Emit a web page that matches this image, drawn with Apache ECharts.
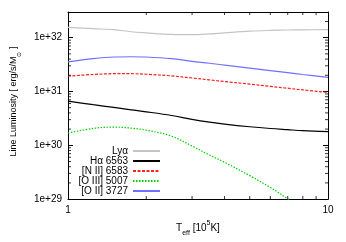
<!DOCTYPE html>
<html>
<head>
<meta charset="utf-8">
<script src="https://cdn.jsdelivr.net/npm/echarts@6/dist/echarts.min.js"></script>
<style>
html,body{margin:0;padding:0;background:#fff;}
#c{width:346px;height:242px;}
</style>
</head>
<body>
<div id="c"></div>
<script>
// Effective temperature grid [10^5 K]
const teff = [1, 1.25, 1.5, 1.75, 2, 2.5, 3, 3.5, 4, 5, 6, 7, 8, 10];
// Line luminosities [erg/s/Msun]
const lyAlpha = [1.56e32, 1.47e32, 1.41e32, 1.29e32, 1.23e32, 1.15e32, 1.135e32, 1.175e32, 1.23e32, 1.32e32, 1.365e32, 1.39e32, 1.40e32, 1.41e32];
const hAlpha = [6.64e30, 5.68e30, 5.05e30, 4.56e30, 4.19e30, 3.58e30, 3.04e30, 2.70e30, 2.48e30, 2.21e30, 2.05e30, 1.95e30, 1.87e30, 1.79e30];
const nII6583 = [1.93e31, 2.07e31, 2.14e31, 2.14e31, 2.09e31, 1.95e31, 1.78e31, 1.64e31, 1.53e31, 1.37e31, 1.245e31, 1.15e31, 1.07e31, 9.6e30];
const oIII5007 = [1.69e30, 2.06e30, 2.18e30, 2.08e30, 1.91e30, 1.48e30, 9.7e29, 6.6e29, 4.83e29, 2.73e29, 1.65e29, 1.01e29, 6.6e28, 2.8e28];
const oII3727 = [3.55e31, 4.07e31, 4.37e31, 4.42e31, 4.37e31, 4.07e31, 3.63e31, 3.35e31, 3.09e31, 2.72e31, 2.45e31, 2.24e31, 2.07e31, 1.83e31];

const seriesNames = ['Ly\u03b1', 'H\u03b1 6563', '[N II] 6583', '[O III] 5007', '[O II] 3727'];
const xTickLabels = ['1', '10'];
const yTickLabels = ['1e+29', '1e+30', '1e+31', '1e+32'];
const xMinorTicks = [2, 3, 4, 5, 6, 7, 8, 9];
const yMinorTicks = [2e29,3e29,4e29,5e29,6e29,7e29,8e29,9e29,2e30,3e30,4e30,5e30,6e30,7e30,8e30,9e30,2e31,3e31,4e31,5e31,6e31,7e31,8e31,9e31,2e32];

const X_MIN = 1, X_MAX = 10, Y_MIN = 1e29, Y_MAX = 3e32;
const FONT = 'Liberation Sans, Arial, sans-serif';

function pairs(ys) { return teff.map((t, i) => [t, ys[i]]); }

function lineSeries(name, ys, color, type, width) {
  return {
    name: name, type: 'line', data: pairs(ys), smooth: 0.35,
    showSymbol: false, symbol: 'none', clip: true,
    lineStyle: { color: color, width: width, type: type },
    itemStyle: { color: color },
    xAxisIndex: 0, yAxisIndex: 0
  };
}

function tickSeries(data, size, offset) {
  return {
    type: 'scatter', data: data, symbol: 'rect', symbolSize: size, symbolOffset: offset,
    itemStyle: { color: '#000' }, silent: true, clip: false, z: 10,
    xAxisIndex: 0, yAxisIndex: 0
  };
}

function decadeLabel(v, labels, base) {
  const l = Math.log10(v);
  const e = Math.round(l);
  if (Math.abs(l - e) > 0.01) return '';
  const s = labels[e - base];
  return s !== undefined ? s : '';
}

const chart = echarts.init(document.getElementById('c'), null, { renderer: 'canvas' });
const axisCommon = {
  axisLine: { show: true, lineStyle: { color: '#000', width: 1 } },
  axisTick: { show: true, inside: true, length: 5, lineStyle: { color: '#000' } },
  splitLine: { show: false }
};

chart.setOption({
  animation: false,
  backgroundColor: '#fff',
  textStyle: { fontFamily: FONT },
  grid: { left: 58, right: 18, top: 12, bottom: 41, show: false },
  legend: {
    data: seriesNames,
    orient: 'vertical', align: 'right',
    right: 185, top: 146, padding: 0, itemGap: 0,
    itemWidth: 27, itemHeight: 9,
    itemStyle: { opacity: 0 },
    textStyle: { fontSize: 10, fontFamily: FONT, color: '#000', lineHeight: 9.5 }
  },
  xAxis: [
    Object.assign({
      type: 'log', min: X_MIN, max: X_MAX, logBase: 10, position: 'bottom',
      name: 'T{sub|eff} [10{sup|5}K]', nameLocation: 'middle', nameGap: 14,
      nameTextStyle: { fontSize: 10, color: '#000', fontFamily: FONT, lineHeight: 12,
        rich: { sub: { fontSize: 7, verticalAlign: 'bottom', lineHeight: 8, padding: [0, 0, -3, 0] },
                sup: { fontSize: 7, verticalAlign: 'top', lineHeight: 8, padding: [-2, 0, 0, 0] } } },
      axisLabel: { fontSize: 10, color: '#000', margin: 6, fontFamily: FONT,
        formatter: function (v) { return decadeLabel(v, xTickLabels, 0); } }
    }, axisCommon),
    Object.assign({ type: 'log', min: X_MIN, max: X_MAX, position: 'top', axisLabel: { show: false } }, axisCommon)
  ],
  yAxis: [
    Object.assign({
      type: 'log', min: Y_MIN, max: Y_MAX, logBase: 10, interval: 1, position: 'left',
      name: 'Line Luminosity [ erg/s/M{sub|\u2299} ]', nameLocation: 'middle', nameGap: 49,
      nameTextStyle: { fontSize: 9, color: '#000', fontFamily: FONT, lineHeight: 11, padding: [0, 0, 0, 8],
        rich: { sub: { fontSize: 6, verticalAlign: 'bottom', lineHeight: 7, padding: [0, 0, -3, 0] } } },
      axisLabel: { fontSize: 10, color: '#000', margin: 6, fontFamily: FONT,
        formatter: function (v) { return decadeLabel(v, yTickLabels, 29); } }
    }, axisCommon),
    Object.assign({ type: 'log', min: Y_MIN, max: Y_MAX, interval: 1, position: 'right', axisLabel: { show: false } }, axisCommon)
  ],
  series: [
    lineSeries(seriesNames[0], lyAlpha, '#c4c4c4', 'solid', 1.2),
    lineSeries(seriesNames[1], hAlpha, '#000000', 'solid', 1.2),
    lineSeries(seriesNames[2], nII6583, '#ff2020', [3, 1.5], 1.2),
    lineSeries(seriesNames[3], oIII5007, '#00d000', [1.5, 1.5], 1.2),
    lineSeries(seriesNames[4], oII3727, '#7070ff', 'solid', 1.2),
    tickSeries(xMinorTicks.map(x => [x, Y_MIN]), [1, 3], [0, -1.5]),
    tickSeries(xMinorTicks.map(x => [x, Y_MAX]), [1, 3], [0, 1.5]),
    tickSeries(yMinorTicks.map(y => [X_MIN, y]), [3, 1], [1.5, 0]),
    tickSeries(yMinorTicks.map(y => [X_MAX, y]), [3, 1], [-1.5, 0])
  ]
});
</script>
</body>
</html>
